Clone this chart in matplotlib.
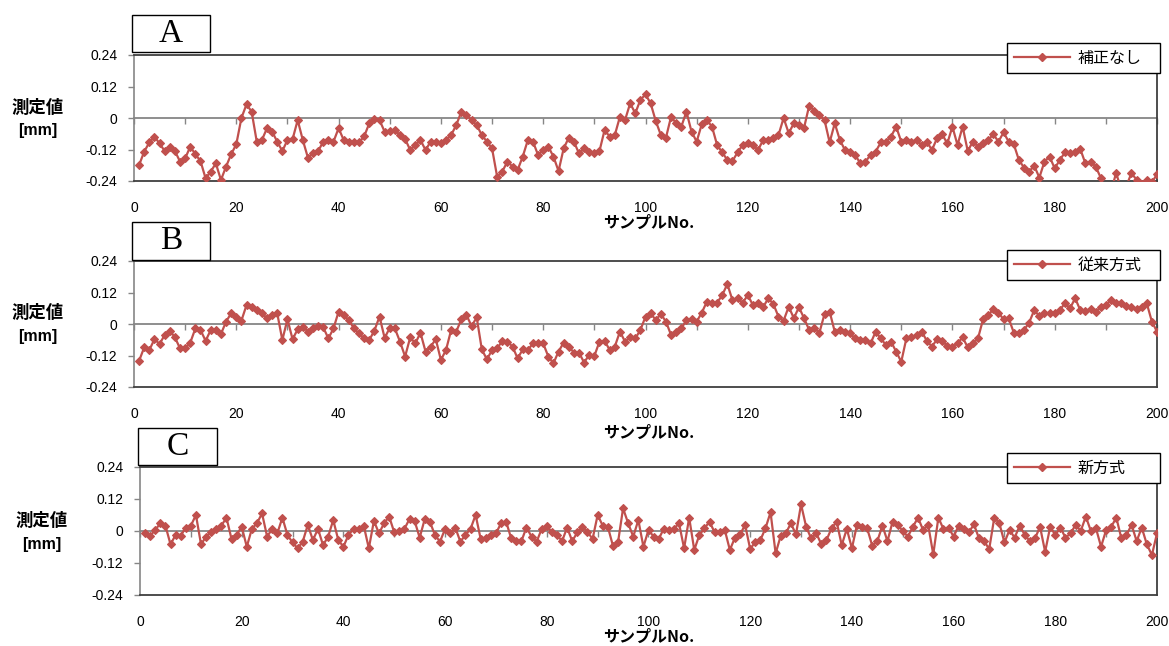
import matplotlib
matplotlib.use("Agg")
import matplotlib.pyplot as plt
from matplotlib.patches import Rectangle
from matplotlib.lines import Line2D

plt.rcParams['font.family'] = ['Liberation Sans', 'Noto Sans CJK JP']
JP = ['Noto Sans CJK JP', 'Liberation Sans']

# ---------------- data ----------------
samples = list(range(1, 201))

hosei_nashi = [
    -0.179, -0.128, -0.093, -0.071, -0.097, -0.126, -0.109, -0.126, -0.166, -0.154,
    -0.109, -0.138, -0.164, -0.230, -0.204, -0.173, -0.236, -0.185, -0.138, -0.100,
    0.000, 0.052, 0.024, -0.090, -0.084, -0.039, -0.052, -0.090, -0.126, -0.084,
    -0.081, -0.008, -0.084, -0.151, -0.135, -0.126, -0.090, -0.084, -0.090, -0.039,
    -0.084, -0.093, -0.090, -0.093, -0.070, -0.020, -0.004, -0.008, -0.052, -0.050,
    -0.046, -0.065, -0.080, -0.122, -0.103, -0.084, -0.122, -0.090, -0.090, -0.097,
    -0.084, -0.065, -0.027, 0.024, 0.011, -0.008, -0.027, -0.065, -0.090, -0.116,
    -0.224, -0.204, -0.166, -0.185, -0.198, -0.147, -0.084, -0.090, -0.141, -0.122,
    -0.109, -0.147, -0.202, -0.116, -0.075, -0.090, -0.135, -0.116, -0.128, -0.135,
    -0.126, -0.046, -0.071, -0.065, 0.005, -0.008, 0.056, 0.018, 0.069, 0.090,
    0.056, -0.011, -0.065, -0.075, 0.005, -0.020, -0.033, 0.024, -0.052, -0.090,
    -0.024, -0.008, -0.033, -0.103, -0.131, -0.160, -0.164, -0.131, -0.103, -0.097,
    -0.103, -0.122, -0.084, -0.084, -0.077, -0.065, 0.000, -0.058, -0.020, -0.027,
    -0.037, 0.047, 0.027, 0.011, -0.008, -0.093, -0.020, -0.084, -0.122, -0.131,
    -0.141, -0.173, -0.166, -0.141, -0.128, -0.093, -0.090, -0.071, -0.033, -0.090,
    -0.084, -0.090, -0.084, -0.103, -0.090, -0.122, -0.077, -0.062, -0.097, -0.033,
    -0.103, -0.033, -0.126, -0.090, -0.109, -0.097, -0.084, -0.062, -0.090, -0.055,
    -0.090, -0.100, -0.160, -0.189, -0.204, -0.182, -0.227, -0.166, -0.147, -0.192,
    -0.160, -0.131, -0.135, -0.128, -0.118, -0.173, -0.166, -0.185, -0.227, -0.290,
    -0.280, -0.210, -0.270, -0.260, -0.210, -0.235, -0.250, -0.235, -0.245, -0.215,
]

juurai_houshiki = [
    -0.140, -0.089, -0.099, -0.058, -0.076, -0.042, -0.025, -0.051, -0.093, -0.093,
    -0.071, -0.017, -0.023, -0.064, -0.023, -0.023, -0.038, 0.009, 0.041, 0.028,
    0.013, 0.072, 0.066, 0.053, 0.041, 0.022, 0.034, 0.041, -0.061, 0.018,
    -0.058, -0.020, -0.010, -0.029, -0.017, -0.008, -0.013, -0.055, -0.017, 0.047,
    0.034, 0.015, -0.017, -0.036, -0.055, -0.061, -0.025, 0.028, -0.053, -0.015,
    -0.017, -0.067, -0.124, -0.051, -0.074, -0.033, -0.105, -0.086, -0.058, -0.137,
    -0.099, -0.023, -0.029, 0.018, 0.034, -0.008, 0.025, -0.097, -0.135, -0.099,
    -0.093, -0.064, -0.067, -0.086, -0.131, -0.097, -0.099, -0.074, -0.071, -0.074,
    -0.124, -0.150, -0.105, -0.071, -0.086, -0.109, -0.109, -0.147, -0.117, -0.122,
    -0.067, -0.064, -0.099, -0.086, -0.029, -0.067, -0.051, -0.055, -0.023, 0.028,
    0.041, 0.015, 0.038, 0.009, -0.042, -0.029, -0.017, 0.015, 0.018, 0.009,
    0.043, 0.085, 0.079, 0.081, 0.110, 0.152, 0.091, 0.098, 0.081, 0.110,
    0.072, 0.079, 0.064, 0.098, 0.076, 0.028, 0.013, 0.066, 0.022, 0.064,
    0.022, -0.023, -0.017, -0.033, 0.038, 0.047, -0.029, -0.023, -0.029, -0.036,
    -0.055, -0.061, -0.061, -0.074, -0.029, -0.055, -0.080, -0.067, -0.105, -0.144,
    -0.055, -0.051, -0.042, -0.029, -0.064, -0.086, -0.058, -0.064, -0.084, -0.086,
    -0.074, -0.051, -0.089, -0.074, -0.055, 0.018, 0.034, 0.056, 0.043, 0.018,
    0.022, -0.033, -0.036, -0.023, 0.005, 0.053, 0.030, 0.041, 0.041, 0.043,
    0.053, 0.079, 0.060, 0.098, 0.053, 0.051, 0.056, 0.047, 0.064, 0.072,
    0.091, 0.081, 0.079, 0.069, 0.064, 0.056, 0.066, 0.079, 0.009, -0.029,
]

shin_houshiki = [
    -0.009, -0.018, 0.004, 0.029, 0.020, -0.050, -0.015, -0.018, 0.013, 0.020,
    0.060, -0.050, -0.021, -0.003, 0.008, 0.020, 0.050, -0.030, -0.015, 0.016,
    -0.059, 0.008, 0.029, 0.066, -0.021, 0.008, -0.009, 0.050, -0.015, -0.043,
    -0.065, -0.040, 0.023, -0.034, 0.008, -0.053, -0.021, 0.041, -0.034, -0.059,
    -0.015, 0.008, 0.008, 0.020, -0.065, 0.038, -0.009, 0.029, 0.054, -0.005,
    0.000, 0.008, 0.045, 0.038, -0.025, 0.045, 0.035, -0.015, -0.040, 0.008,
    -0.009, 0.013, -0.040, -0.015, 0.008, 0.060, -0.030, -0.025, -0.015, -0.009,
    0.029, 0.035, -0.028, -0.038, -0.038, 0.013, -0.021, -0.040, 0.008, 0.020,
    -0.005, -0.015, -0.038, 0.013, -0.038, -0.005, 0.016, -0.003, -0.030, 0.060,
    0.020, 0.016, -0.055, -0.043, 0.085, 0.029, -0.021, 0.041, -0.059, 0.004,
    -0.021, -0.030, 0.008, 0.004, 0.008, 0.029, -0.065, 0.050, -0.071, -0.015,
    0.010, 0.035, -0.005, -0.003, 0.004, -0.071, -0.025, -0.013, 0.023, -0.068,
    -0.040, -0.034, 0.010, 0.070, -0.084, -0.018, -0.009, 0.029, -0.013, 0.100,
    0.016, -0.028, -0.009, -0.050, -0.034, 0.010, 0.035, -0.053, 0.008, -0.065,
    0.023, 0.016, 0.010, -0.055, -0.038, 0.020, -0.038, 0.035, 0.023, 0.000,
    -0.021, 0.016, 0.050, 0.004, 0.023, -0.088, 0.050, 0.008, 0.013, -0.021,
    0.020, 0.008, -0.005, 0.025, -0.028, -0.038, -0.068, 0.050, 0.029, -0.043,
    0.004, -0.025, 0.020, -0.015, -0.038, -0.028, 0.016, -0.078, 0.016, -0.015,
    0.013, -0.025, -0.009, 0.023, 0.000, 0.054, 0.000, 0.010, -0.059, 0.004,
    0.016, 0.050, -0.028, -0.015, 0.023, -0.038, 0.013, -0.050, -0.090, -0.009,
]

series_names = ['補正なし', '従来方式', '新方式']
panel_letters = ['A', 'B', 'C']
y_ticks = [-0.24, -0.12, 0, 0.12, 0.24]
y_tick_labels = ['-0.24', '-0.12', '0', '0.12', '0.24']
x_ticks = list(range(0, 201, 20))
x_minor = list(range(0, 201, 10))
y_label = ['測定値', '[mm]']
x_label = 'サンプルNo.'

# ---------------- layout (pixels) ----------------
W, H = 1169, 646
fig = plt.figure(figsize=(W / 100, H / 100), dpi=100)
fig.patch.set_facecolor('white')


def fx(px):
    return px / W


def fy(py):
    return 1 - py / H


LINE_COLOR = '#C0504D'
GRAY = '#868686'
DARK = '#3F3F3F'

layout = [
    dict(ax=(134, 55, 1157, 181), box=(132, 15, 210, 52), leg=(1007, 43, 1160, 74),
         xl_y=223, yl_x=38, yl_y=(108, 130)),
    dict(ax=(134, 261, 1157, 387), box=(132, 222, 210, 260), leg=(1007, 250, 1160, 281),
         xl_y=433, yl_x=38, yl_y=(313, 336)),
    dict(ax=(140, 467, 1157, 595), box=(138, 428, 217, 465), leg=(1007, 453, 1160, 484),
         xl_y=637, yl_x=42, yl_y=(521, 545)),
]

data = [hosei_nashi, juurai_houshiki, shin_houshiki]

for i, lay in enumerate(layout):
    l, t, r, b = lay['ax']
    ax = fig.add_axes([fx(l), fy(b), fx(r) - fx(l), fy(t) - fy(b)])
    ax.set_xlim(0, 200)
    ax.set_ylim(-0.24, 0.24)
    ax.plot(samples, data[i], color=LINE_COLOR, lw=1.6, marker='D', ms=3.6,
            mec=LINE_COLOR, mfc=LINE_COLOR, mew=0.8, zorder=3)

    for s in ['top', 'right', 'bottom']:
        ax.spines[s].set_color(DARK)
        ax.spines[s].set_linewidth(1.3)
    ax.spines['left'].set_color(GRAY)
    ax.spines['left'].set_linewidth(1.2)

    ax.set_yticks(y_ticks)
    ax.set_yticklabels(y_tick_labels)
    ax.tick_params(axis='y', direction='out', length=4, width=1, color=GRAY, pad=8,
                   labelsize=10)
    ax.set_xticks(x_ticks)
    ax.set_xticklabels([str(v) for v in x_ticks])
    ax.tick_params(axis='x', length=0, pad=14.5, labelsize=10)

    # zero axis line with tick marks
    sec = ax.secondary_xaxis(0.5)
    sec.set_alignment('bottom')
    sec.set_xticks(x_minor)
    sec.tick_params(axis='x', direction='out', length=4, width=1, color=GRAY,
                    labelbottom=False, labeltop=False)
    sec.spines['bottom'].set_color(GRAY)
    sec.spines['bottom'].set_linewidth(1.3)
    sec.set_zorder(1)

    # legend
    ll, lt, lr, lb = lay['leg']
    leg = ax.legend([Line2D([], [], color=LINE_COLOR, lw=1.6, marker='D', ms=3.6,
                            mec=LINE_COLOR, mfc=LINE_COLOR)],
                    [series_names[i]],
                    loc='upper left', mode='expand',
                    bbox_to_anchor=(fx(ll), fy(lb), fx(lr) - fx(ll), fy(lt) - fy(lb)),
                    bbox_transform=fig.transFigure, borderaxespad=0,
                    fancybox=False, framealpha=1, edgecolor='black',
                    handlelength=3.5, handletextpad=0.5, borderpad=0.42,
                    prop=dict(family=JP, size=11.5))
    leg.get_frame().set_linewidth(1.0)
    leg.set_zorder(5)

    # panel letter box
    bl, bt, br, bb = lay['box']
    fig.add_artist(Rectangle((fx(bl), fy(bb)), fx(br) - fx(bl), fy(bt) - fy(bb),
                             transform=fig.transFigure, fill=True, facecolor='white',
                             edgecolor='black', lw=1.0))
    fig.text(fx((bl + br) / 2), fy((bt + bb) / 2), panel_letters[i],
             family=['Liberation Serif', 'DejaVu Serif'], size=24,
             ha='center', va='center')

    # axis labels
    fig.text(fx(lay['yl_x']), fy(lay['yl_y'][0]), y_label[0], family=JP,
             weight='bold', size=12.5, ha='center', va='center')
    fig.text(fx(lay['yl_x']), fy(lay['yl_y'][1]), y_label[1],
             family=['Liberation Sans'], weight='bold', size=11.5, ha='center', va='center')
    fig.text(fx(649), fy(lay['xl_y']), x_label, family=JP, weight='bold', size=11.5,
             ha='center', va='center')

fig.savefig('out.png', dpi=100, facecolor='white')
